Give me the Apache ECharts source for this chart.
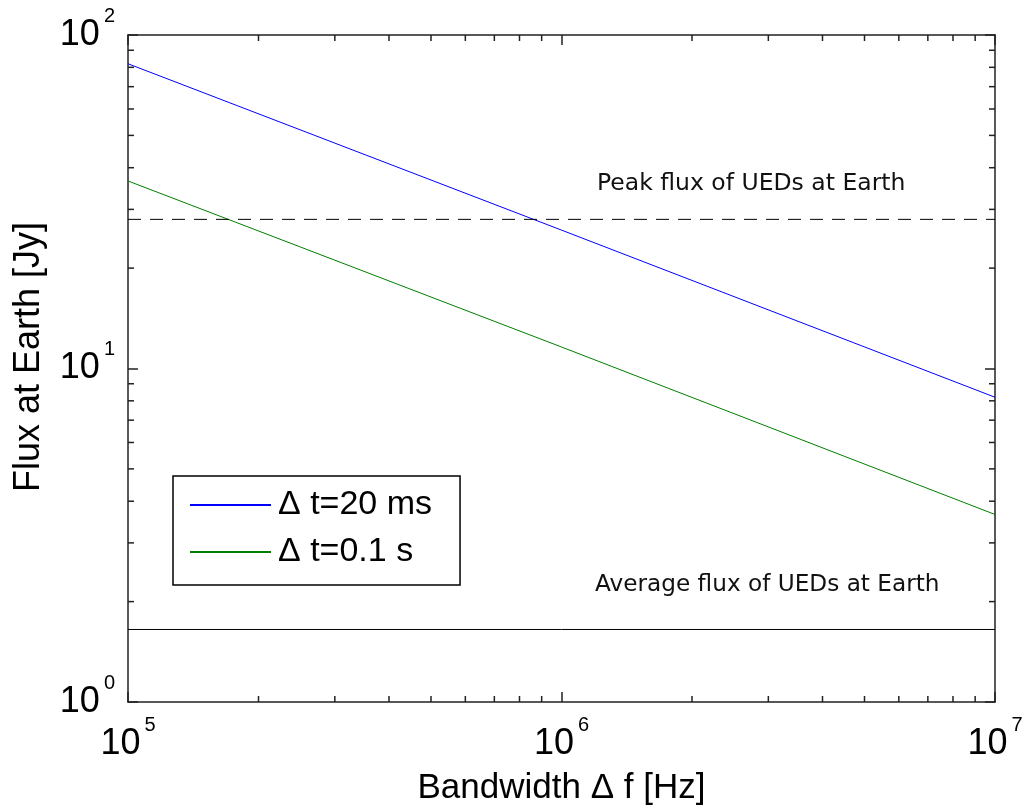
<!DOCTYPE html>
<html>
<head>
<meta charset="utf-8">
<script src="https://cdn.jsdelivr.net/npm/echarts@6/dist/echarts.min.js"></script>
<style>html,body{margin:0;padding:0;background:#fff;}#c{width:1023px;height:810px;}</style>
</head>
<body>
<div id="c"></div>
<script>
// ---- data ----
const bandwidth = [1e5, 1e6, 1e7];            // Hz
const flux20ms = [82, 26, 8.2];               // Jy, Δt = 20 ms
const flux01s = [36.5, 11.6, 3.65];           // Jy, Δt = 0.1 s
const peakFlux = 28;                          // Jy
const avgFlux = 1.65;                         // Jy
const xRange = [1e5, 1e7];
const yRange = [1, 100];
const xTickExps = [5, 6, 7];
const yTickExps = [0, 1, 2];
const seriesNames = ['\u0394 t=20 ms', '\u0394 t=0.1 s'];
const xTitle = 'Bandwidth \u0394 f [Hz]';
const yTitle = 'Flux at Earth [Jy]';
const peakLabel = 'Peak flux of UEDs at Earth';
const avgLabel = 'Average flux of UEDs at Earth';

// minor tick values (2..9 per decade)
const xMinor = [], yMinor = [];
for (let e = 5; e < 7; e++) for (let m = 2; m <= 9; m++) xMinor.push(m * Math.pow(10, e));
for (let e = 0; e < 2; e++) for (let m = 2; m <= 9; m++) yMinor.push(m * Math.pow(10, e));

const pair = (xs, ys) => xs.map((x, i) => [x, ys[i]]);
const expLabel = v => {
  const e = Math.round(Math.log10(v));
  return '{b|10}{e|' + e + '}';
};
const rich = {
  b: { fontFamily: 'Liberation Sans, Arial', fontSize: 36, color: '#000' },
  e: { fontFamily: 'Liberation Sans, Arial', fontSize: 20, color: '#000', padding: [0, 0, 38, 4] }
};
const axColor = '#222';

const chart = echarts.init(document.getElementById('c'), null, { renderer: 'canvas' });
chart.setOption({
  animation: false,
  backgroundColor: '#fff',
  grid: { left: 128, right: 28, top: 35, bottom: 108, show: false, containLabel: false, outerBoundsMode: 'none' },
  xAxis: [
    {
      type: 'log', logBase: 10, min: xRange[0], max: xRange[1], position: 'bottom',
      name: xTitle, nameLocation: 'middle', nameGap: 69,
      nameTextStyle: { fontFamily: 'Liberation Sans, Arial', fontSize: 35, color: '#000' },
      axisLine: { show: true, onZero: false, lineStyle: { color: axColor, width: 1.5 } },
      axisTick: { show: true, inside: true, length: 10, lineStyle: { color: axColor, width: 1.5 } },
      axisLabel: { show: true, margin: 13, formatter: v => xTickExps.includes(Math.round(Math.log10(v))) ? expLabel(v) : '', rich: rich },
      splitLine: { show: false }, minorTick: { show: false }
    },
    {
      type: 'log', logBase: 10, min: xRange[0], max: xRange[1], position: 'top',
      axisLine: { show: true, onZero: false, lineStyle: { color: axColor, width: 1.5 } },
      axisTick: { show: true, inside: true, length: 10, lineStyle: { color: axColor, width: 1.5 } },
      axisLabel: { show: false }, splitLine: { show: false }
    }
  ],
  yAxis: [
    {
      type: 'log', logBase: 10, min: yRange[0], max: yRange[1], position: 'left',
      axisLine: { show: true, onZero: false, lineStyle: { color: axColor, width: 1.5 } },
      axisTick: { show: true, inside: true, length: 10, lineStyle: { color: axColor, width: 1.5 } },
      axisLabel: { show: true, margin: 13, formatter: v => yTickExps.includes(Math.round(Math.log10(v))) ? expLabel(v) : '', rich: rich },
      splitLine: { show: false }
    },
    {
      type: 'log', logBase: 10, min: yRange[0], max: yRange[1], position: 'right',
      axisLine: { show: true, onZero: false, lineStyle: { color: axColor, width: 1.5 } },
      axisTick: { show: true, inside: true, length: 10, lineStyle: { color: axColor, width: 1.5 } },
      axisLabel: { show: false }, splitLine: { show: false }
    }
  ],
  legend: {
    data: seriesNames,
    orient: 'vertical', left: 173, top: 476,
    padding: [12, 28, 16, 16],
    itemWidth: 81, itemHeight: 30, itemGap: 13,
    itemStyle: { color: 'transparent', borderWidth: 0, opacity: 0 },
    backgroundColor: '#fff', borderColor: '#000', borderWidth: 1.5,
    textStyle: { fontFamily: 'Liberation Sans, Arial', fontSize: 34, color: '#000', padding: [0, 0, 0, 2] }
  },
  graphic: [
    { type: 'text', x: 29, y: 357, rotation: Math.PI / 2,
      style: { text: yTitle, font: '36px "Liberation Sans", Arial', fill: '#000', align: 'center', verticalAlign: 'middle' } },
    { type: 'text', left: 597, top: 172, style: { text: peakLabel, font: '23.5px "DejaVu Sans"', fill: '#111' } },
    { type: 'text', left: 595, top: 573, style: { text: avgLabel, font: '23.2px "DejaVu Sans"', fill: '#111' } }
  ],
  series: [
    {
      name: seriesNames[0], type: 'line', data: pair(bandwidth, flux20ms),
      symbol: 'none', lineStyle: { color: '#0000ff', width: 1 }, itemStyle: { color: '#0000ff' }
    },
    {
      name: seriesNames[1], type: 'line', data: pair(bandwidth, flux01s),
      symbol: 'none', lineStyle: { color: '#008000', width: 1 }, itemStyle: { color: '#008000' }
    },
    {
      name: 'peak', type: 'line', data: pair(xRange, [peakFlux, peakFlux]),
      symbol: 'none', lineStyle: { color: '#000', width: 1, type: [13, 9] }
    },
    {
      name: 'avg', type: 'line', data: pair(xRange, [avgFlux, avgFlux]),
      symbol: 'none', lineStyle: { color: '#000', width: 1 }
    },
    {
      name: 'xminor', type: 'custom', silent: true,
      data: xMinor.map(v => [v, yRange[0]]),
      encode: { x: 0, y: 1 },
      renderItem: (params, api) => {
        const b = api.coord([api.value(0), yRange[0]]);
        const t = api.coord([api.value(0), yRange[1]]);
        const st = { stroke: axColor, lineWidth: 1.5 };
        return { type: 'group', children: [
          { type: 'line', shape: { x1: b[0], y1: b[1], x2: b[0], y2: b[1] - 6 }, style: st },
          { type: 'line', shape: { x1: t[0], y1: t[1], x2: t[0], y2: t[1] + 6 }, style: st }
        ] };
      }
    },
    {
      name: 'yminor', type: 'custom', silent: true,
      data: yMinor.map(v => [xRange[0], v]),
      encode: { x: 0, y: 1 },
      renderItem: (params, api) => {
        const l = api.coord([xRange[0], api.value(1)]);
        const r = api.coord([xRange[1], api.value(1)]);
        const st = { stroke: axColor, lineWidth: 1.5 };
        return { type: 'group', children: [
          { type: 'line', shape: { x1: l[0], y1: l[1], x2: l[0] + 6, y2: l[1] }, style: st },
          { type: 'line', shape: { x1: r[0], y1: r[1], x2: r[0] - 6, y2: r[1] }, style: st }
        ] };
      }
    }
  ]
});
</script>
</body>
</html>
